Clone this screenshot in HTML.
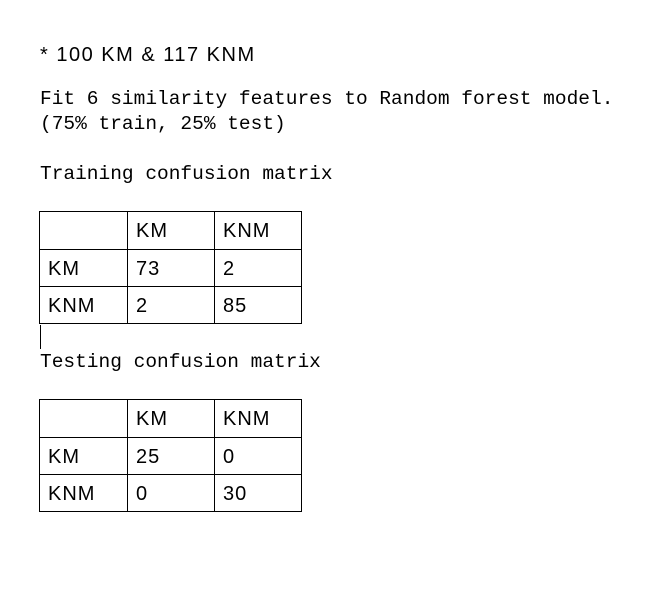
<!DOCTYPE html>
<html><head><meta charset="utf-8"><style>
html,body{margin:0;padding:0;background:#fff;width:660px;height:590px;overflow:hidden;position:relative}
.s{font-family:"Liberation Sans",sans-serif;font-size:20px;letter-spacing:1.5px;color:#000;position:absolute;white-space:pre;line-height:1}
.m{font-family:"Liberation Mono",monospace;font-size:19.5px;color:#000;position:absolute;white-space:pre;line-height:1}
table{position:absolute;border-collapse:collapse;font-family:"Liberation Sans",sans-serif;font-size:20px;letter-spacing:1px}
td{border:1px solid #000;padding:2px 0 0 8px;height:36px;vertical-align:middle;box-sizing:border-box}
td.c0{width:88px}td.c1{width:87px}td.c2{width:87px}
</style></head><body>
<div class="s" style="left:40px;top:45px">* 100 KM &amp; 117 KNM</div>
<div class="m" style="left:40px;top:90px">Fit 6 similarity features to Random forest model.</div>
<div class="m" style="left:40px;top:115px">(75% train, 25% test)</div>
<div class="m" style="left:40px;top:165px">Training confusion matrix</div>
<table style="left:39px;top:211px">
<tr style="height:38px"><td class="c0"></td><td class="c1">KM</td><td class="c2">KNM</td></tr>
<tr style="height:37px"><td class="c0">KM</td><td class="c1">73</td><td class="c2">2</td></tr>
<tr style="height:37px"><td class="c0">KNM</td><td class="c1">2</td><td class="c2">85</td></tr>
</table>
<div style="position:absolute;left:40px;top:325px;width:1px;height:24px;background:#000"></div>
<div class="m" style="left:40px;top:353px">Testing confusion matrix</div>
<table style="left:39px;top:399px">
<tr style="height:38px"><td class="c0"></td><td class="c1">KM</td><td class="c2">KNM</td></tr>
<tr style="height:37px"><td class="c0">KM</td><td class="c1">25</td><td class="c2">0</td></tr>
<tr style="height:37px"><td class="c0">KNM</td><td class="c1">0</td><td class="c2">30</td></tr>
</table>
</body></html>
